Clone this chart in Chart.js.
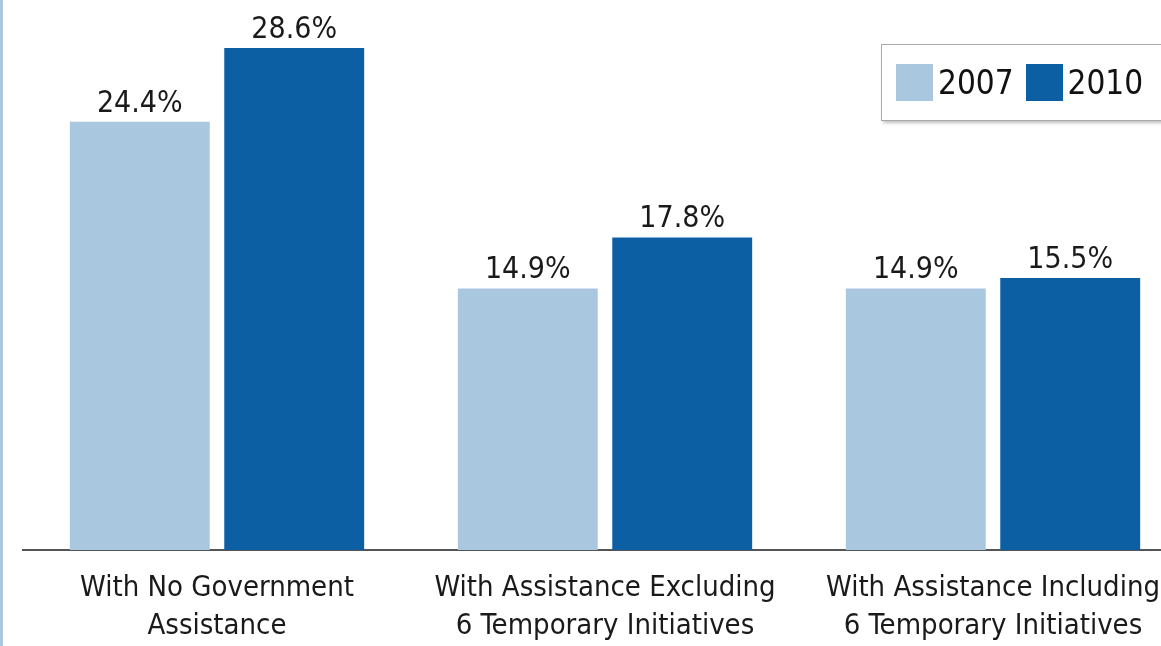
<!DOCTYPE html>
<html>
<head>
<meta charset="utf-8">
<script src="https://cdn.jsdelivr.net/npm/chart.js@4.4.1/dist/chart.umd.min.js"></script>
<style>
  html, body { margin: 0; padding: 0; background: #fff; overflow: hidden; }
  #wrap { position: relative; width: 1161px; height: 646px; overflow: hidden; border-left: 3px solid #a9c8e0; box-sizing: border-box; }
  #chartBox { position: absolute; left: -3px; top: 0; width: 1190px; height: 646px; }
  #legend {
    position: absolute; left: 878px; top: 44px; width: 290px; height: 77px;
    border: 1px solid #aaa; box-shadow: 2px 2px 3px rgba(0,0,0,0.25); background: #fff;
    font-family: "Liberation Sans Narrow", "DejaVu Sans Condensed", sans-serif; font-size: 33px; color: #111;
    display: flex; align-items: center; padding-left: 14px; box-sizing: border-box;
  }
  .item { display: flex; align-items: center; margin-right: 12px; }
  .sw { width: 37px; height: 37px; margin-right: 5px; }
</style>
</head>
<body>
<div id="wrap">
  <div id="chartBox"><canvas id="barChart" width="1190" height="646"></canvas></div>
  <div id="legend"></div>
</div>
<script>
// categories and values (percent)
var categories = [
    ['With No Government', 'Assistance'],
    ['With Assistance Excluding', '6 Temporary Initiatives'],
    ['With Assistance Including', '6 Temporary Initiatives']
];
var seriesNames = ['2007', '2010'];
var values2007 = [24.4, 14.9, 14.9];
var values2010 = [28.6, 17.8, 15.5];

var colors = ['#a9c8e0', '#0d5fa4'];
var fontFam = '"Liberation Sans Narrow", "DejaVu Sans Condensed", sans-serif';

// draw value labels above bars
var valueLabels = {
    id: 'valueLabels',
    afterDatasetsDraw: function(chart) {
        var ctx = chart.ctx;
        ctx.save();
        ctx.font = '30px ' + fontFam;
        ctx.fillStyle = '#1a1a1a';
        ctx.textAlign = 'center';
        ctx.textBaseline = 'bottom';
        chart.data.datasets.forEach(function(ds, i) {
            chart.getDatasetMeta(i).data.forEach(function(bar, j) {
                ctx.fillText(ds.data[j].toFixed(1) + '%', bar.x, bar.y - 3);
            });
        });
        ctx.restore();
    }
};

var ctx = document.getElementById('barChart').getContext('2d');
var barChart = new Chart(ctx, {
    type: 'bar',
    data: {
        labels: categories,
        datasets: [
            { label: seriesNames[0], data: values2007, backgroundColor: colors[0] },
            { label: seriesNames[1], data: values2010, backgroundColor: colors[1] }
        ]
    },
    options: {
        responsive: false,
        animation: false,
        categoryPercentage: 0.796,
        barPercentage: 0.906,
        layout: { padding: { left: 23, right: 3, top: 0, bottom: 0 } },
        plugins: {
            legend: { display: false },
            tooltip: { enabled: false }
        },
        scales: {
            y: {
                display: false,
                min: 0,
                max: 31.34
            },
            x: {
                grid: { display: false },
                border: { display: true, color: '#555', width: 2 },
                ticks: {
                    color: '#1a1a1a',
                    padding: 12,
                    maxRotation: 0,
                    autoSkip: false,
                    font: { family: fontFam, size: 29, lineHeight: 1.3 }
                },
                afterFit: function(scale) { scale.height = 96; }
            }
        }
    },
    plugins: [valueLabels]
});

// html legend built from datasets
var legendEl = document.getElementById('legend');
barChart.data.datasets.forEach(function(ds) {
    var item = document.createElement('div');
    item.className = 'item';
    var sw = document.createElement('span');
    sw.className = 'sw';
    sw.style.background = ds.backgroundColor;
    var txt = document.createElement('span');
    txt.textContent = ds.label;
    item.appendChild(sw);
    item.appendChild(txt);
    legendEl.appendChild(item);
});
</script>
</body>
</html>
